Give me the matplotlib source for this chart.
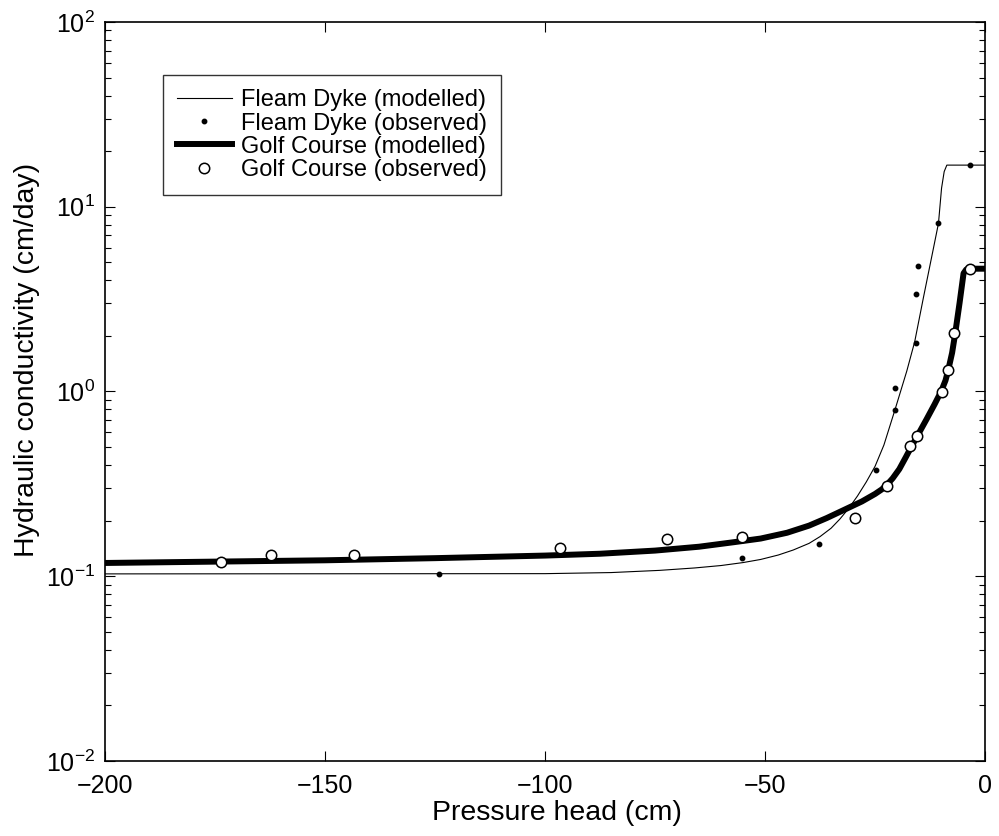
import matplotlib
matplotlib.use('Agg')
import matplotlib.pyplot as plt
from matplotlib.ticker import LogLocator, NullFormatter

plt.rcParams['font.family'] = ['Liberation Sans', 'DejaVu Sans']
plt.rcParams['mathtext.default'] = 'regular'

# Fleam Dyke - modelled curve
fd_mod_h = [-200, -100, -85, -74, -66, -60, -55, -51, -47, -43.6, -40, -37.5, -35, -33, -31, -29,
            -27, -25, -23, -20.5, -17.8, -16, -14, -11.7, -10.6, -9.9, -9.3, -8.7, 0]
fd_mod_k = [0.103, 0.1033, 0.1047, 0.1076, 0.1109, 0.1143, 0.1186, 0.1233, 0.1303, 0.1387, 0.1507,
            0.164, 0.182, 0.204, 0.233, 0.272, 0.324, 0.394, 0.513, 0.794, 1.29, 1.86, 3.24,
            6.03, 8.13, 12.6, 15.5, 16.8, 16.8]

# Fleam Dyke - observed
fd_obs_h = [-3.4, -10.75, -15.2, -15.8, -15.8, -20.5, -20.5, -24.9, -37.8, -55.2, -124.0]
fd_obs_k = [16.8, 8.2, 4.75, 3.38, 1.82, 1.05, 0.79, 0.374, 0.150, 0.126, 0.1025]

# Golf Course - modelled curve
gc_mod_h = [-200, -175, -150, -125, -100, -87.5, -75, -65, -57, -51, -45, -40, -36, -32, -28,
            -25, -23.5, -22.3, -21, -19.5, -18, -17, -15.4, -13.3, -11.5, -10, -9, -8.4, -7.5,
            -6.8, -5.8, -4.9, -4.3, -3.8, 0]
gc_mod_k = [0.118, 0.120, 0.122, 0.1253, 0.1294, 0.1324, 0.1377, 0.1445, 0.153, 0.160, 0.172,
            0.188, 0.2065, 0.229, 0.254, 0.279, 0.295, 0.313, 0.339, 0.380, 0.442, 0.490, 0.575,
            0.708, 0.851, 1.0, 1.148, 1.30, 1.62, 2.06, 3.02, 4.36, 4.57, 4.62, 4.62]

# Golf Course - observed
gc_obs_h = [-3.4, -7.1, -8.4, -9.9, -15.4, -17.0, -22.3, -29.5, -55.2, -72.3, -96.6, -143.4, -162.3, -173.6]
gc_obs_k = [4.62, 2.08, 1.30, 0.99, 0.574, 0.507, 0.308, 0.207, 0.164, 0.159, 0.143, 0.130, 0.130, 0.119]

fig = plt.figure(figsize=(9.99, 8.36), dpi=100)
ax = fig.add_axes([0.1051, 0.0897, 0.8810, 0.8840])

ax.plot(fd_mod_h, fd_mod_k, color='black', lw=0.8, label='Fleam Dyke (modelled)')
ax.plot(fd_obs_h, fd_obs_k, ls='none', marker='o', ms=3.2, color='black', label='Fleam Dyke (observed)')
ax.plot(gc_mod_h, gc_mod_k, color='black', lw=4.3, solid_joinstyle='round', label='Golf Course (modelled)')
ax.plot(gc_obs_h, gc_obs_k, ls='none', marker='o', ms=7.5, mfc='white', mec='black', mew=1.1,
        label='Golf Course (observed)')

ax.set_yscale('log')
ax.set_xlim(-200, 0)
ax.set_ylim(1e-2, 1e2)
ax.set_xticks([-200, -150, -100, -50, 0])
ax.set_xticklabels(['\u2212200', '\u2212150', '\u2212100', '\u221250', '0'])
ax.yaxis.set_major_locator(LogLocator(base=10, numticks=10))
ax.yaxis.set_minor_locator(LogLocator(base=10, subs=range(2, 10), numticks=10))
ax.yaxis.set_minor_formatter(NullFormatter())

ax.tick_params(which='both', direction='in', top=True, right=True, labelsize=18)
ax.tick_params(axis='x', pad=9)
ax.tick_params(axis='y', pad=7)
ax.tick_params(which='major', length=7, width=0.8)
ax.tick_params(which='minor', length=4, width=0.8)
for s in ax.spines.values():
    s.set_linewidth(1.2)

ax.set_xlabel('Pressure head (cm)', fontsize=20.5)
ax.set_ylabel('Hydraulic conductivity (cm/day)', fontsize=20.5)
ax.xaxis.set_label_coords(0.514, -0.053)
ax.yaxis.set_label_coords(-0.074, 0.543)

leg = ax.legend(loc='upper left', bbox_to_anchor=(0.066, 0.928), fontsize=17, frameon=True,
                fancybox=False, edgecolor='black', handlelength=2.3, handletextpad=0.4,
                labelspacing=0.05, borderpad=0.6, borderaxespad=0)
leg.get_frame().set_linewidth(1.0)

fig.savefig('out.png', dpi=100)
